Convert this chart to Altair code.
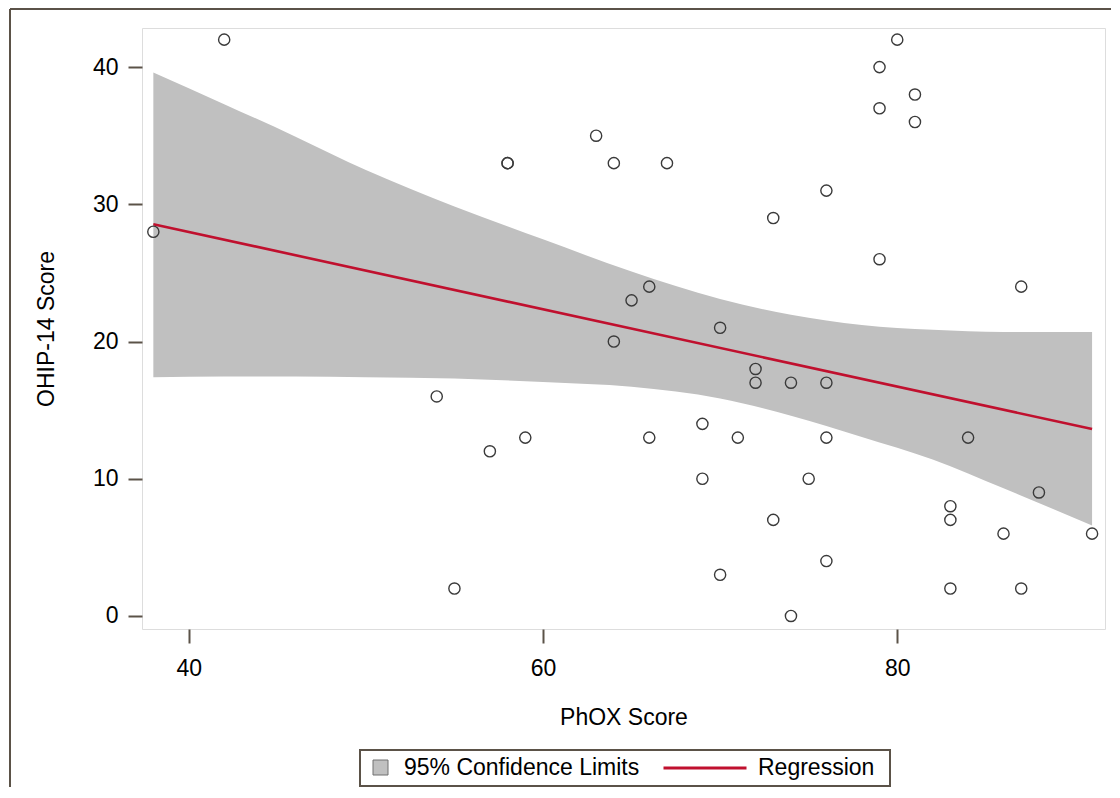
import altair as alt
import pandas as pd

# ---- data ----
phox = [42, 38, 63, 58, 58, 64, 65, 64, 80, 79, 81, 79, 81, 67, 76, 73, 79, 87, 66, 70,
        54, 57, 59, 55, 72, 72, 74, 76, 69, 66, 71, 76, 84, 69, 75, 88, 83, 83, 73, 86,
        91, 76, 70, 83, 87, 74]
ohip = [42, 28, 35, 33, 33, 33, 23, 20, 42, 40, 38, 37, 36, 33, 31, 29, 26, 24, 24, 21,
        16, 12, 13, 2, 18, 17, 17, 17, 14, 13, 13, 13, 13, 10, 10, 9, 8, 7, 7, 6,
        6, 4, 3, 2, 2, 0]

band_x = [38, 42, 46, 50, 55, 60, 65, 70, 74, 78, 82, 86, 91]
band_upper = [39.6, 37.3, 34.95, 32.5, 29.85, 27.45, 25.1, 23.1, 21.95, 21.2, 20.85, 20.7, 20.7]
band_lower = [17.4, 17.45, 17.45, 17.4, 17.3, 17.05, 16.7, 15.85, 14.6, 13.05, 11.4, 9.3, 6.6]

reg_x = [38, 91]
reg_y = [28.55, 13.62]

x_ticks = [40, 60, 80]
y_ticks = [0, 10, 20, 30, 40]
band_label = "95% Confidence Limits"
reg_label = "Regression"

FONT = "Liberation Sans"
FRAME = "#5b5248"

pts = pd.DataFrame({"x": phox, "y": ohip})
band = pd.DataFrame({"x": band_x, "lo": band_lower, "hi": band_upper, "band": band_label})
reg = pd.DataFrame({"x": reg_x, "y": reg_y, "fit": reg_label})

xscale = alt.Scale(domain=[37.36, 91.73], nice=False, zero=False)
yscale = alt.Scale(domain=[-0.95, 42.85], nice=False, zero=False)

xaxis = alt.Axis(values=x_ticks, title="PhOX Score", grid=False, domain=False,
                 tickColor=FRAME, tickWidth=2, tickSize=14, labelPadding=14,
                 labelFontSize=23, titleFontSize=23, titlePadding=26,
                 labelFont=FONT, titleFont=FONT, labelColor="black", titleColor="black",
                 titleFontWeight="normal")
yaxis = alt.Axis(values=y_ticks, title="OHIP-14 Score", grid=False, domain=False,
                 tickColor=FRAME, tickWidth=2, tickSize=14, labelPadding=10,
                 labelFontSize=23, titleFontSize=23, titlePadding=34,
                 labelFont=FONT, titleFont=FONT, labelColor="black", titleColor="black",
                 titleFontWeight="normal")

area = alt.Chart(band).mark_area(interpolate="monotone", opacity=1).encode(
    x=alt.X("x:Q", scale=xscale, axis=xaxis),
    y=alt.Y("lo:Q", scale=yscale, axis=yaxis),
    y2="hi:Q",
    fill=alt.Fill("band:N", scale=alt.Scale(domain=[band_label], range=["#c0c0c0"]),
                  legend=alt.Legend(title=None, orient="none", legendX=227, legendY=728,
                                    padding=0, symbolType="square", symbolSize=225,
                                    symbolStrokeColor="#707070", symbolStrokeWidth=1,
                                    labelFont=FONT, labelFontSize=23, labelColor="black",
                                    labelOffset=12, labelLimit=0)),
)

line = alt.Chart(reg).mark_line(strokeWidth=2.6).encode(
    x=alt.X("x:Q", scale=xscale),
    y=alt.Y("y:Q", scale=yscale),
    stroke=alt.Stroke("fit:N", scale=alt.Scale(domain=[reg_label], range=["#c0102e"]),
                      legend=alt.Legend(title=None, orient="none", legendX=520, legendY=697,
                                        padding=0, symbolType="stroke", symbolSize=6889,
                                        symbolStrokeWidth=3,
                                        labelFont=FONT, labelFontSize=23, labelColor="black",
                                        labelOffset=10, labelLimit=0)),
)

points = alt.Chart(pts).mark_point(shape="circle", filled=False, size=125,
                                   strokeWidth=1.4, color="#3a3a3a", opacity=1).encode(
    x=alt.X("x:Q", scale=xscale),
    y=alt.Y("y:Q", scale=yscale),
)

one = pd.DataFrame({"k": [0]})
legend_box = alt.Chart(one).mark_rect(fillOpacity=0, stroke=FRAME, strokeWidth=2).encode(
    x=alt.value(218), x2=alt.value(748), y=alt.value(722), y2=alt.value(758))
outer_top = alt.Chart(one).mark_rule(color=FRAME, strokeWidth=2).encode(
    x=alt.value(-132), x2=alt.value(990), y=alt.value(-19))
outer_left = alt.Chart(one).mark_rule(color=FRAME, strokeWidth=2).encode(
    x=alt.value(-132), y=alt.value(-19), y2=alt.value(790))

chart = alt.layer(area, line, points, legend_box, outer_top, outer_left).resolve_legend(
    fill="independent", stroke="independent"
).properties(
    width=963, height=601,
    autosize=alt.AutoSizeParams(type="none"),
    padding={"left": 134, "top": 20, "right": 6, "bottom": 158},
).configure_view(stroke=FRAME, strokeWidth=2).configure(background="white")

chart.save("out.html", embed_options={"renderer": "svg", "actions": False})
